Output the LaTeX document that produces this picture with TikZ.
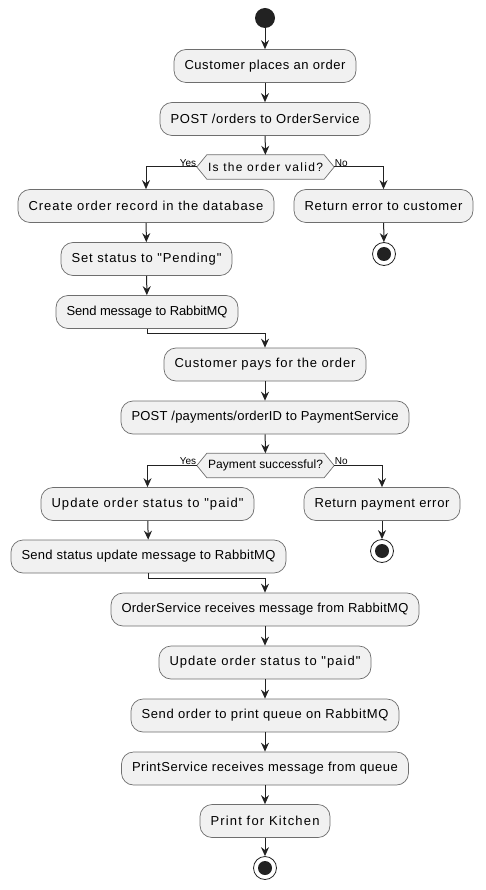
\documentclass[tikz,border=0pt]{standalone}
\usepackage{fontspec}
\setmainfont{Liberation Sans}[Ligatures=TeXOff]
\usetikzlibrary{arrows.meta,backgrounds}
\definecolor{actfill}{HTML}{F1F1F1}
\definecolor{actline}{HTML}{6E6E6E}
\definecolor{flowc}{HTML}{222222}
\newlength\fitwA
\newlength\fitwB
\newcommand\fittext[2]{%
  \settowidth\fitwA{#2}%
  \settowidth\fitwB{\addfontfeature{LetterSpace=10}#2}%
  \pgfmathsetmacro\fitls{10*(#1-\fitwA)/(\fitwB-\fitwA)}%
  \edef\fitdo{\noexpand\addfontfeature{LetterSpace=\fitls}}\fitdo #2}
\begin{document}
\begin{tikzpicture}[x=1pt,y=-1pt,
  act/.style={draw=actline, line width=0.7pt, fill=actfill, rounded corners=12pt,
    minimum height=33pt, inner xsep=10.5pt, inner ysep=0pt,
    font=\fontsize{13}{15}\selectfont},
  dtext/.style={minimum height=24pt, inner xsep=11pt, inner ysep=0pt,
    font=\fontsize{12}{14}\selectfont},
  dia/.style={draw=actline, line width=0.7pt, fill=actfill},
  flow/.style={draw=flowc, line width=1pt, -{Stealth[length=9pt,width=8pt,inset=3pt]}},
  plain/.style={draw=flowc, line width=1pt},
  lbl/.style={inner sep=0.5pt, font=\fontsize{10}{12}\selectfont},
  startnode/.style={circle, fill=flowc, minimum size=20pt, inner sep=0pt},
  stopnode/.style={circle, draw=flowc, line width=0.8pt, fill=white, minimum size=23pt, inner sep=0pt}]
\useasboundingbox (0,0) rectangle (485,890);

\node[startnode] (start) at (265,18) {};
\node[act] (b1) at (265,66) {\fittext{161}{Customer places an order}};
\node[act] (b2) at (265,119) {\fittext{189}{POST /orders to OrderService}};
\node[dtext] (d1) at (265.5,167) {\fittext{115}{Is the order valid?}};
\node[act] (b3) at (146,206) {\fittext{235}{Create order record in the database}};
\node[act] (e1) at (383.5,206) {\fittext{158}{Return error to customer}};
\node[stopnode] (s1) at (384,254) {};
\fill[flowc] (s1.center) circle (7pt);
\node[act] (b4) at (146.5,259) {\fittext{150}{Set status to "Pending"}};
\node[act] (b5) at (147,312) {\fittext{161}{Send message to RabbitMQ}};
\coordinate (m1) at (265,333);
\node[act] (b6) at (265,364.5) {\fittext{181}{Customer pays for the order}};
\node[act] (b7) at (265,417.5) {\fittext{267}{POST /payments/orderID to PaymentService}};
\node[dtext] (d2) at (265.5,465.5) {\fittext{115}{Payment successful?}};
\node[act] (b8) at (147.5,504) {\fittext{192}{Update order status to "paid"}};
\node[act] (e2) at (382,504) {\fittext{135}{Return payment error}};
\node[stopnode] (s2) at (382,551) {};
\fill[flowc] (s2.center) circle (7pt);
\node[act] (b9) at (148.5,556.5) {\fittext{254}{Send status update message to RabbitMQ}};
\coordinate (m2) at (265,578);
\node[act] (b10) at (265,609.5) {\fittext{287}{OrderService receives message from RabbitMQ}};
\node[act] (b11) at (265,662.5) {\fittext{191}{Update order status to "paid"}};
\node[act] (b12) at (265,715.5) {\fittext{247}{Send order to print queue on RabbitMQ}};
\node[act] (b13) at (265,768.5) {\fittext{266}{PrintService receives message from queue}};
\node[act] (b14) at (265,821) {\fittext{109}{Print for Kitchen}};
\node[stopnode] (s3) at (265,868) {};
\fill[flowc] (s3.center) circle (7pt);

\begin{pgfonlayer}{background}
\foreach \d in {d1,d2}{
  \draw[dia] (\d.west) -- ([xshift=10pt]\d.north west) -- ([xshift=-10pt]\d.north east)
    -- (\d.east) -- ([xshift=-10pt]\d.south east) -- ([xshift=10pt]\d.south west) -- cycle;
}
\end{pgfonlayer}

\draw[flow] (start) -- (b1);
\draw[flow] (b1) -- (b2);
\draw[flow] (b2) -- (d1);
\draw[flow] (d1.west) -| (b3.north);
\draw[flow] (d1.east) -| (e1.north);
\node[lbl, anchor=south east] at (d1.west) {Yes};
\node[lbl, anchor=south west] at (d1.east) {No};
\draw[flow] (e1) -- (s1);
\draw[flow] (b3) -- (b4);
\draw[flow] (b4) -- (b5);
\draw[plain] (b5.south) |- (m1);
\draw[flow] (m1) -- (b6.north);
\draw[flow] (b6) -- (b7);
\draw[flow] (b7) -- (d2);
\draw[flow] (d2.west) -| (b8.north);
\draw[flow] (d2.east) -| (e2.north);
\node[lbl, anchor=south east] at (d2.west) {Yes};
\node[lbl, anchor=south west] at (d2.east) {No};
\draw[flow] (e2) -- (s2);
\draw[flow] (b8) -- (b9);
\draw[plain] (b9.south) |- (m2);
\draw[flow] (m2) -- (b10.north);
\draw[flow] (b10) -- (b11);
\draw[flow] (b11) -- (b12);
\draw[flow] (b12) -- (b13);
\draw[flow] (b13) -- (b14);
\draw[flow] (b14) -- (s3);
\end{tikzpicture}
\end{document}
